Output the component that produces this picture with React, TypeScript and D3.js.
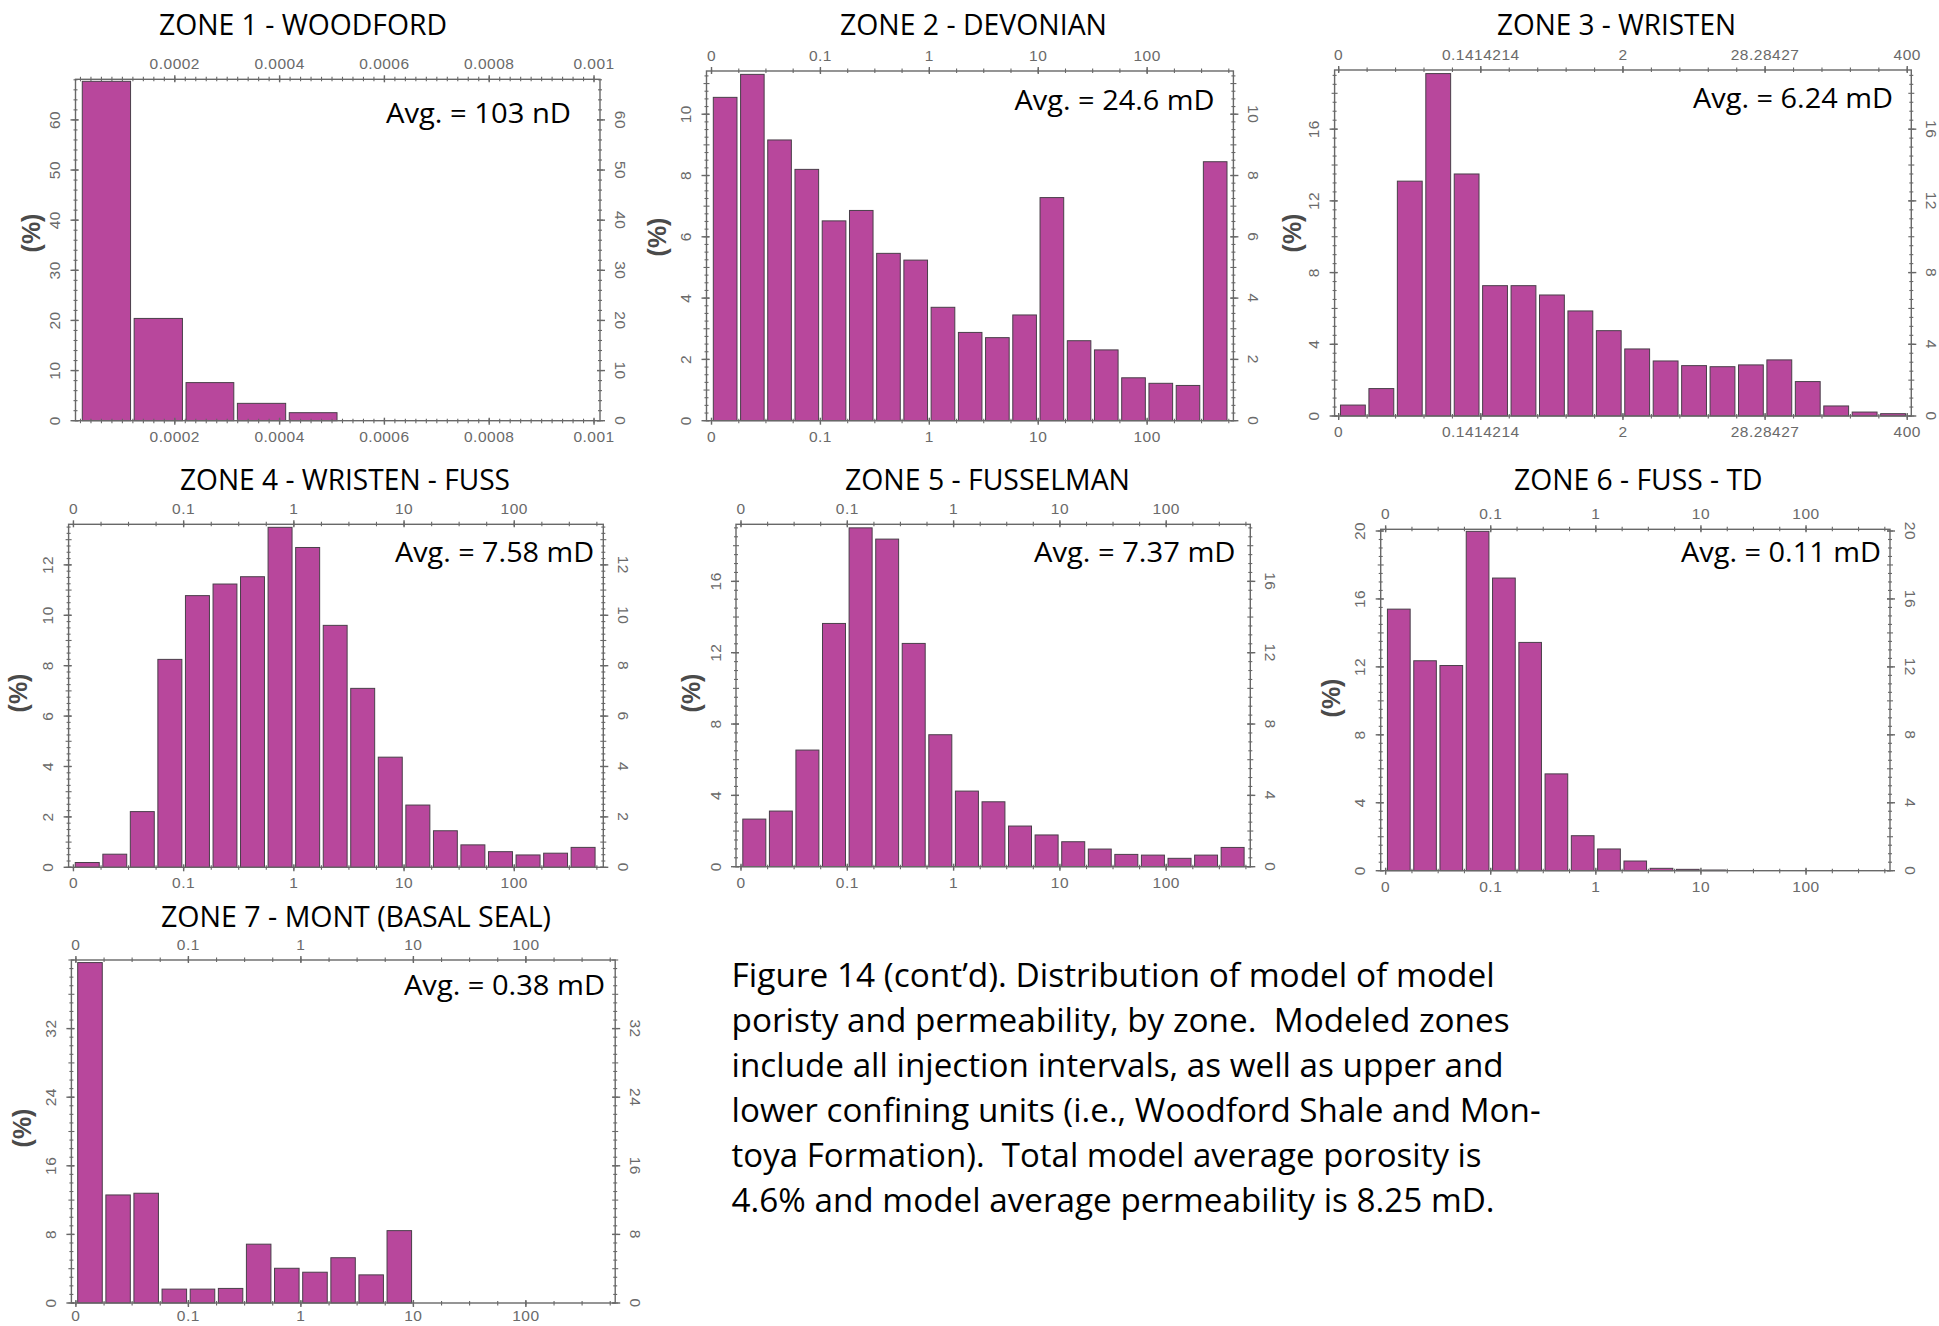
import React from 'react';
import * as d3 from 'd3';

// ---------------- DATA ----------------
const zone1BinEdges = [0.00002, 0.000119, 0.000218, 0.000316, 0.000415, 0.000513];
const zone1Percent = [67.7, 20.4, 7.6, 3.46, 1.6];
const zone1XTicks = [0.0002, 0.0004, 0.0006, 0.0008, 0.001];
const zone1XTickLabels = ['0.0002', '0.0004', '0.0006', '0.0008', '0.001'];

const logBinEdges = [0.01, 0.0178, 0.0316, 0.0562, 0.1, 0.178, 0.316, 0.562, 1, 1.78, 3.16, 5.62, 10, 17.8, 31.6, 56.2, 100, 178, 316, 562];
const logXTicks = [0.01, 0.1, 1, 10, 100];
const logXTickLabels = ['0', '0.1', '1', '10', '100'];

const zone3BinEdges = [0.01, 0.01699, 0.02887, 0.04905, 0.08334, 0.1414214, 0.2403, 0.4083, 0.6937, 1.1786, 2, 3.398, 5.774, 9.81, 16.67, 28.28427, 48.06, 81.66, 138.7, 235.7, 400];
const zone3XTicks = [0.01, 0.1414214, 2, 28.28427, 400];
const zone3XTickLabels = ['0', '0.1414214', '2', '28.28427', '400'];

const zone2Percent = [10.55, 11.3, 9.16, 8.2, 6.52, 6.86, 5.46, 5.24, 3.7, 2.88, 2.71, 3.45, 7.28, 2.61, 2.31, 1.4, 1.22, 1.15, 8.45];
const zone3Percent = [0.61, 1.53, 13.1, 19.1, 13.5, 7.27, 7.27, 6.75, 5.86, 4.76, 3.74, 3.07, 2.81, 2.75, 2.85, 3.13, 1.92, 0.56, 0.22, 0.13];
const zone4Percent = [0.19, 0.52, 2.21, 8.25, 10.78, 11.24, 11.53, 13.49, 12.69, 9.6, 7.1, 4.37, 2.47, 1.45, 0.89, 0.62, 0.49, 0.56, 0.79];
const zone5Percent = [2.67, 3.12, 6.54, 13.64, 19.0, 18.37, 12.52, 7.4, 4.24, 3.64, 2.28, 1.78, 1.4, 0.99, 0.69, 0.65, 0.47, 0.65, 1.08];
const zone6Percent = [15.4, 12.36, 12.08, 19.98, 17.23, 13.44, 5.7, 2.06, 1.28, 0.57, 0.14, 0.08, 0.04, 0, 0, 0, 0, 0, 0];
const zone7Percent = [39.7, 12.6, 12.8, 1.62, 1.62, 1.7, 6.86, 4.05, 3.59, 5.28, 3.28, 8.44, 0, 0, 0, 0, 0, 0, 0];

const zone1YTicks = [0, 10, 20, 30, 40, 50, 60];
const zone2YTicks = [0, 2, 4, 6, 8, 10];
const zone3YTicks = [0, 4, 8, 12, 16];
const zone4YTicks = [0, 2, 4, 6, 8, 10, 12];
const zone5YTicks = [0, 4, 8, 12, 16];
const zone6YTicks = [0, 4, 8, 12, 16, 20];
const zone7YTicks = [0, 8, 16, 24, 32];

const zoneTitles = ['ZONE 1 - WOODFORD', 'ZONE 2 - DEVONIAN', 'ZONE 3 - WRISTEN', 'ZONE 4 - WRISTEN - FUSS', 'ZONE 5 - FUSSELMAN', 'ZONE 6 - FUSS - TD', 'ZONE 7 - MONT (BASAL SEAL)'];
const zoneAverages = ['Avg. = 103 nD', 'Avg. = 24.6 mD', 'Avg. = 6.24 mD', 'Avg. = 7.58 mD', 'Avg. = 7.37 mD', 'Avg. = 0.11 mD', 'Avg. = 0.38 mD'];

const captionLines = [
  'Figure 14 (cont\u2019d). Distribution of model of model',
  'poristy and permeability, by zone.  Modeled zones',
  'include all injection intervals, as well as upper and',
  'lower confining units (i.e., Woodford Shale and Mon-',
  'toya Formation).  Total model average porosity is',
  '4.6% and model average permeability is 8.25 mD.',
];

// ---------------- LAYOUT ----------------
const pow = (e: number) => Math.pow(10, e);

const panels = [
  { edges: zone1BinEdges, values: zone1Percent, yTicks: zone1YTicks, xTicks: zone1XTicks, xLabels: zone1XTickLabels,
    log: false, xDomain: [0.0000105, 0.0010114], minorX: d3.range(0.00002, 0.00101, 0.00002),
    box: [75.5, 79.3, 600, 420.7], yMax: 68.1, yMinor: 2,
    title: [159, 35, 288], avg: [386, 123.3, 185], pct: [30.6, 233] },
  { edges: logBinEdges, values: zone2Percent, yTicks: zone2YTicks, xTicks: logXTicks, xLabels: logXTickLabels,
    log: true, xDomain: [pow(-2.046), pow(2.792)], minorX: logBinEdges,
    box: [706.5, 71, 1233.4, 420.7], yMax: 11.41, yMinor: 0.25,
    title: [840, 35, 267], avg: [1014.6, 110, 200], pct: [657, 237] },
  { edges: zone3BinEdges, values: zone3Percent, yTicks: zone3YTicks, xTicks: zone3XTicks, xLabels: zone3XTickLabels,
    log: true, xDomain: [pow(-2.033), pow(2.635)], minorX: zone3BinEdges,
    box: [1334.6, 70, 1911.3, 416], yMax: 19.3, yMinor: 0.5,
    title: [1497, 35, 239], avg: [1693, 108.3, 200], pct: [1292, 233] },
  { edges: logBinEdges, values: zone4Percent, yTicks: zone4YTicks, xTicks: logXTicks, xLabels: logXTickLabels,
    log: true, xDomain: [pow(-2.044), pow(2.808)], minorX: logBinEdges,
    box: [68.6, 524.3, 603.3, 867.3], yMax: 13.61, yMinor: 0.25,
    title: [180, 490, 330], avg: [395, 561.7, 199], pct: [18.4, 693] },
  { edges: logBinEdges, values: zone5Percent, yTicks: zone5YTicks, xTicks: logXTicks, xLabels: logXTickLabels,
    log: true, xDomain: [pow(-2.047), pow(2.791)], minorX: logBinEdges,
    box: [736, 524.3, 1250.3, 866.7], yMax: 19.2, yMinor: 0.5,
    title: [845, 490, 285], avg: [1034, 561.7, 201.5], pct: [690.5, 693] },
  { edges: logBinEdges, values: zone6Percent, yTicks: zone6YTicks, xTicks: logXTicks, xLabels: logXTickLabels,
    log: true, xDomain: [pow(-2.047), pow(2.799)], minorX: logBinEdges,
    box: [1380.7, 529.3, 1890, 870.7], yMax: 20.1, yMinor: 0.5,
    title: [1514, 490, 248.5], avg: [1681, 561.7, 200], pct: [1330.6, 698] },
  { edges: logBinEdges, values: zone7Percent, yTicks: zone7YTicks, xTicks: logXTicks, xLabels: logXTickLabels,
    log: true, xDomain: [pow(-2.04), pow(2.794)], minorX: logBinEdges,
    box: [71.4, 960, 615.2, 1303], yMax: 40, yMinor: 1,
    title: [161, 927, 390], avg: [404, 995, 201], pct: [22.3, 1128] },
];

const BAR_FILL = '#b8479c';
const BAR_STROKE = '#4a3f4a';
const AXIS = '#686868';
const TICK_TEXT = '#6a6a6a';
const MYRIAD = "'Open Sans', 'Noto Sans', sans-serif";
const TICKFONT = "'Liberation Sans', Arial, sans-serif";
const TICK_SIZE = 15.5;

function Panel({ cfg, idx }: { cfg: any; idx: number }) {
  const [x0, y0, x1, y1] = cfg.box;
  const x = (cfg.log ? d3.scaleLog() : d3.scaleLinear()).domain(cfg.xDomain).range([x0, x1]);
  const y = d3.scaleLinear().domain([0, cfg.yMax]).range([y1, y0]);
  const gap = 1.8;
  const bars = cfg.values.map((v: number, i: number) => ({ v, a: cfg.edges[i], b: cfg.edges[i + 1] }));
  const yMinorTicks = d3.range(0, cfg.yMax + 1e-9, cfg.yMinor);
  const majorStep = cfg.yTicks[1] - cfg.yTicks[0];
  const bottomLabelY = Math.min(y1 + 21, 1321);
  return (
    <g>
      {bars.filter((d: any) => d.v > 0).map((d: any, i: number) => (
        <rect key={i} x={x(d.a) + gap} y={y(d.v)} width={x(d.b) - x(d.a) - 2 * gap} height={y(0) - y(d.v)}
          fill={BAR_FILL} stroke={BAR_STROKE} strokeWidth={1} />
      ))}
      <rect x={x0} y={y0} width={x1 - x0} height={y1 - y0} fill="none" stroke={AXIS} strokeWidth={1.4} />
      {cfg.minorX.map((t: number, i: number) => (
        <g key={'mx' + i}>
          <line x1={x(t)} x2={x(t)} y1={y1 - 2} y2={y1 + 2.5} stroke={AXIS} strokeWidth={1.1} />
          <line x1={x(t)} x2={x(t)} y1={y0 - 2.5} y2={y0 + 2} stroke={AXIS} strokeWidth={1.1} />
        </g>
      ))}
      {cfg.xTicks.map((t: number, i: number) => (
        <g key={'Mx' + i}>
          <line x1={x(t)} x2={x(t)} y1={y1 - 3} y2={y1 + 4} stroke={AXIS} strokeWidth={1.4} />
          <line x1={x(t)} x2={x(t)} y1={y0 - 4} y2={y0 + 3} stroke={AXIS} strokeWidth={1.4} />
          <text x={x(t)} y={bottomLabelY} textAnchor="middle" fontFamily={TICKFONT} fontSize={TICK_SIZE} fill={TICK_TEXT} letterSpacing={0.5}>{cfg.xLabels[i]}</text>
          <text x={x(t)} y={y0 - 10} textAnchor="middle" fontFamily={TICKFONT} fontSize={TICK_SIZE} fill={TICK_TEXT} letterSpacing={0.5}>{cfg.xLabels[i]}</text>
        </g>
      ))}
      {yMinorTicks.map((t: number, i: number) => {
        const isHalf = Math.abs((t / (majorStep / 2)) - Math.round(t / (majorStep / 2))) < 1e-6;
        const len = isHalf ? 3 : 2;
        return (
          <g key={'my' + i}>
            <line x1={x0 - len} x2={x0 + len} y1={y(t)} y2={y(t)} stroke={AXIS} strokeWidth={1.1} />
            <line x1={x1 - len} x2={x1 + len} y1={y(t)} y2={y(t)} stroke={AXIS} strokeWidth={1.1} />
          </g>
        );
      })}
      {cfg.yTicks.map((t: number, i: number) => (
        <g key={'My' + i}>
          <line x1={x0 - 5} x2={x0 + 3} y1={y(t)} y2={y(t)} stroke={AXIS} strokeWidth={1.4} />
          <line x1={x1 - 3} x2={x1 + 5} y1={y(t)} y2={y(t)} stroke={AXIS} strokeWidth={1.4} />
          <text transform={`translate(${x0 - 21},${y(t)}) rotate(-90)`} textAnchor="middle" dominantBaseline="central"
            fontFamily={TICKFONT} fontSize={TICK_SIZE} fill={TICK_TEXT} letterSpacing={0.5}>{t}</text>
          <text transform={`translate(${x1 + 20},${y(t)}) rotate(90)`} textAnchor="middle" dominantBaseline="central"
            fontFamily={TICKFONT} fontSize={TICK_SIZE} fill={TICK_TEXT} letterSpacing={0.5}>{t}</text>
        </g>
      ))}
      <text transform={`translate(${cfg.pct[0]},${cfg.pct[1]}) rotate(-90)`} textAnchor="middle" dominantBaseline="central"
        fontFamily={TICKFONT} fontSize={25} fontWeight="bold" fill="#4a4a4a">(%)</text>
      <text x={cfg.title[0]} y={cfg.title[1]} fontFamily={MYRIAD} fontSize={29} fill="#000"
        textLength={cfg.title[2]} lengthAdjust="spacingAndGlyphs">{zoneTitles[idx]}</text>
      <text x={cfg.avg[0]} y={cfg.avg[1]} fontFamily={MYRIAD} fontSize={26.5} fill="#000"
        textLength={cfg.avg[2]} lengthAdjust="spacingAndGlyphs">{zoneAverages[idx]}</text>
    </g>
  );
}

const captionWidths = [763, 778, 772, 809, 750, 763];

export default function App() {
  return (
    <svg width={1939} height={1326} viewBox="0 0 1939 1326"
      style={{ position: 'absolute', left: 0, top: 0, background: '#fff' }}>
      <rect x={0} y={0} width={1939} height={1326} fill="#fff" />
      {panels.map((p, i) => <Panel key={i} cfg={p} idx={i} />)}
      {captionLines.map((line, i) => (
        <text key={i} x={731.6} y={986.7 + i * 45} fontFamily={MYRIAD} fontSize={32} fill="#000"
          style={{ whiteSpace: 'pre' }} textLength={captionWidths[i]} lengthAdjust="spacingAndGlyphs">{line}</text>
      ))}
    </svg>
  );
}
